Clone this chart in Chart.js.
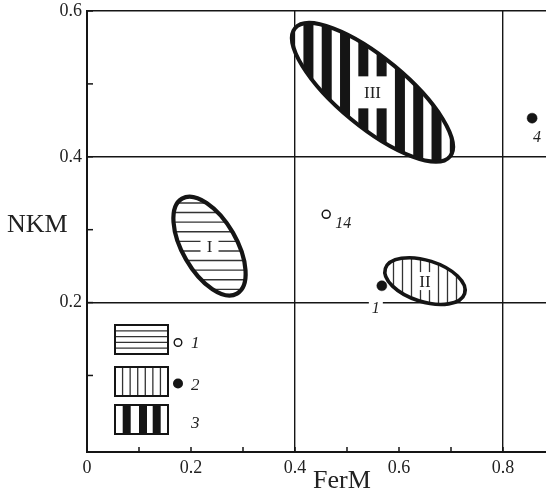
<!DOCTYPE html>
<html><head><meta charset="utf-8">
<script src="https://cdn.jsdelivr.net/npm/chart.js@4/dist/chart.umd.min.js"></script>
<style>html,body{margin:0;padding:0;background:#fff}</style>
</head><body>
<canvas id="c" width="546" height="491"></canvas>
<script>
// ---- data ----
const xTickValues = [0, 0.1, 0.2, 0.3, 0.4, 0.5, 0.6, 0.7, 0.8];
const xLabelValues = [0, 0.2, 0.4, 0.6, 0.8];
const xGridValues = [0.4, 0.8];
const yTickValues = [0.1, 0.2, 0.3, 0.4, 0.5, 0.6];
const yLabelValues = [0.2, 0.4, 0.6];
const yGridValues = [0.2, 0.4, 0.6];

const openPointX = [0.46];
const openPointY = [0.321];
const openPointLabels = ['14'];
const filledPointX = [0.856, 0.567];
const filledPointY = [0.453, 0.223];
const filledPointLabels = ['4', '1'];

const ellipseLabels = ['I', 'II', 'III'];
const ellipseCenterX = [0.2356, 0.650, 0.549];
const ellipseCenterY = [0.2774, 0.2295, 0.4884];
const ellipseMajorX = [0.2885, 0.7262, 0.698];
const ellipseMajorY = [0.2122, 0.2123, 0.4005];
const ellipseMinorX = [0.2806, 0.6379, 0.5069];
const ellipseMinorY = [0.2959, 0.2025, 0.4521];

const legendLabels = ['1', '2', '3'];

// ---- styles ----
const SERIF = '"Liberation Serif", "DejaVu Serif", serif';
const INK = '#151515';
const ellipseHatch = ['horizontal', 'vertical', 'bars'];
const ellipseBorder = [4.2, 3.6, 4];
const ellipseLabelBox = [[18, 20], [22, 18], [30, 32]];
const labelOffsets = { '14': [9, 14], '4': [1, 24], '1': [-10, 27] };

const near = (a, list) => list.some(g => Math.abs(g - a) < 1e-6);
const fmt = v => String(+v.toFixed(1));

const drawPlugin = {
  id: 'drawPlugin',
  beforeDatasetsDraw(chart) {
    const { ctx, scales: { x, y }, chartArea } = chart;
    ctx.save();
    ctx.strokeStyle = INK; ctx.lineWidth = 1.5;
    xTickValues.forEach(v => {
      const px = x.getPixelForValue(v);
      ctx.beginPath(); ctx.moveTo(px, chartArea.bottom); ctx.lineTo(px, chartArea.bottom - 5); ctx.stroke();
    });
    yTickValues.forEach(v => {
      const py = y.getPixelForValue(v);
      ctx.beginPath(); ctx.moveTo(chartArea.left, py); ctx.lineTo(chartArea.left + 6, py); ctx.stroke();
    });
    ctx.restore();

    ellipseLabels.forEach((lab, i) => {
      const cx = x.getPixelForValue(ellipseCenterX[i]), cy = y.getPixelForValue(ellipseCenterY[i]);
      const ux = x.getPixelForValue(ellipseMajorX[i]) - cx, uy = y.getPixelForValue(ellipseMajorY[i]) - cy;
      const vx = x.getPixelForValue(ellipseMinorX[i]) - cx, vy = y.getPixelForValue(ellipseMinorY[i]) - cy;
      const path = () => {
        ctx.beginPath(); ctx.save(); ctx.translate(cx, cy); ctx.transform(ux, uy, vx, vy, 0, 0);
        ctx.arc(0, 0, 1, 0, Math.PI * 2); ctx.restore();
      };
      const hw = Math.hypot(ux, vx) + 4, hh = Math.hypot(uy, vy) + 4;
      ctx.save();
      path(); ctx.fillStyle = '#fff'; ctx.fill(); ctx.clip();
      const kind = ellipseHatch[i];
      if (kind === 'horizontal') {
        const sp = 9.6; ctx.strokeStyle = '#333'; ctx.lineWidth = 1.4;
        for (let k = -10; k <= 10; k++) {
          const yy = cy + sp / 2 + k * sp;
          ctx.beginPath(); ctx.moveTo(cx - hw, yy); ctx.lineTo(cx + hw, yy); ctx.stroke();
        }
      } else if (kind === 'vertical') {
        const sp = 9; ctx.strokeStyle = '#333'; ctx.lineWidth = 1.3;
        for (let k = -10; k <= 10; k++) {
          const xx = cx + sp / 2 + k * sp;
          ctx.beginPath(); ctx.moveTo(xx, cy - hh); ctx.lineTo(xx, cy + hh); ctx.stroke();
        }
      } else {
        const sp = 18.3, bw = 10; ctx.fillStyle = INK;
        for (let k = -10; k <= 10; k++) {
          const xx = cx + sp / 2 + k * sp;
          ctx.fillRect(xx - bw / 2, cy - hh, bw, 2 * hh);
        }
      }
      const [bwid, bhgt] = ellipseLabelBox[i];
      ctx.fillStyle = '#fff';
      ctx.fillRect(cx - bwid / 2, cy - bhgt / 2, bwid, bhgt);
      ctx.font = '17px ' + SERIF;
      ctx.fillStyle = '#222'; ctx.textAlign = 'center'; ctx.textBaseline = 'middle';
      ctx.fillText(lab, cx, cy + 1);
      ctx.restore();
      path(); ctx.save(); ctx.lineWidth = ellipseBorder[i]; ctx.strokeStyle = INK; ctx.stroke(); ctx.restore();
    });
  },
  afterDatasetsDraw(chart) {
    const { ctx } = chart;
    ctx.save();
    ctx.font = 'italic 16px ' + SERIF; ctx.textAlign = 'left'; ctx.textBaseline = 'alphabetic';
    chart.data.datasets.forEach((ds, di) => {
      const meta = chart.getDatasetMeta(di);
      meta.data.forEach((el, j) => {
        const lab = ds.pointLabels[j];
        const off = labelOffsets[lab] || [8, 12];
        const tx = el.x + off[0], ty = el.y + off[1];
        const tw = ctx.measureText(lab).width;
        ctx.fillStyle = '#fff';
        ctx.fillRect(tx - 3, ty - 12, tw + 6, 14);
        ctx.fillStyle = '#222';
        ctx.fillText(lab, tx, ty);
      });
    });
    ctx.restore();
  },
  afterDraw(chart) {
    const { ctx, chartArea } = chart;
    ctx.save();
    // axis titles
    ctx.fillStyle = '#222';
    ctx.font = '26px ' + SERIF; ctx.textBaseline = 'alphabetic';
    ctx.textAlign = 'center';
    ctx.fillText('FerM', 342, 488);
    ctx.textAlign = 'left';
    ctx.fillText('NKM', 7, 232);
    // legend
    const bx = chartArea.left + 28, bw = 53, bh = 29;
    const by = [chartArea.top + 314, chartArea.top + 356, chartArea.top + 394];
    by.forEach((top, i) => {
      ctx.fillStyle = '#fff'; ctx.fillRect(bx, top, bw, bh);
      if (i === 0) {
        ctx.strokeStyle = '#333'; ctx.lineWidth = 1.3;
        for (let k = 1; k <= 4; k++) {
          const yy = top + k * bh / 5;
          ctx.beginPath(); ctx.moveTo(bx, yy); ctx.lineTo(bx + bw, yy); ctx.stroke();
        }
      } else if (i === 1) {
        ctx.strokeStyle = '#333'; ctx.lineWidth = 1.3;
        for (let k = 1; k <= 6; k++) {
          const xx = bx + k * bw / 7;
          ctx.beginPath(); ctx.moveTo(xx, top); ctx.lineTo(xx, top + bh); ctx.stroke();
        }
      } else {
        ctx.fillStyle = INK;
        [7.7, 24, 37.7].forEach(o => ctx.fillRect(bx + o, top, 8, bh));
      }
      ctx.strokeStyle = INK; ctx.lineWidth = 2;
      ctx.strokeRect(bx, top, bw, bh);
      const mid = top + bh / 2;
      if (i === 0) {
        ctx.beginPath(); ctx.arc(bx + 63, mid + 3, 3.8, 0, Math.PI * 2);
        ctx.fillStyle = '#fff'; ctx.fill(); ctx.lineWidth = 1.4; ctx.strokeStyle = INK; ctx.stroke();
      } else if (i === 1) {
        ctx.beginPath(); ctx.arc(bx + 63, mid + 2, 5, 0, Math.PI * 2);
        ctx.fillStyle = INK; ctx.fill();
      }
      ctx.fillStyle = '#222'; ctx.font = 'italic 17px ' + SERIF; ctx.textAlign = 'left';
      ctx.fillText(legendLabels[i], bx + 76, mid + 8);
    });
    ctx.restore();
  }
};

const gridColor = list => c => (c.tick && near(c.tick.value, list)) ? INK : 'rgba(0,0,0,0)';

new Chart(document.getElementById('c'), {
  type: 'scatter',
  data: {
    datasets: [
      {
        data: openPointX.map((v, i) => ({ x: v, y: openPointY[i] })),
        pointLabels: openPointLabels,
        pointRadius: 4, pointBorderWidth: 1.5,
        pointBackgroundColor: '#fff', pointBorderColor: INK
      },
      {
        data: filledPointX.map((v, i) => ({ x: v, y: filledPointY[i] })),
        pointLabels: filledPointLabels,
        pointRadius: 5, pointBorderWidth: 0.5,
        pointBackgroundColor: INK, pointBorderColor: INK
      }
    ]
  },
  options: {
    responsive: false,
    animation: false,
    devicePixelRatio: 1,
    layout: { autoPadding: false, padding: { top: 11, right: 0, left: 0, bottom: 0 } },
    plugins: { legend: { display: false }, tooltip: { enabled: false } },
    scales: {
      x: {
        type: 'linear', min: 0, max: 0.8827,
        afterBuildTicks: s => { s.ticks = xTickValues.map(v => ({ value: v })); },
        afterFit: s => { s.height = 39; s.paddingLeft = 0; s.paddingRight = 0; },
        ticks: {
          autoSkip: false, maxRotation: 0, padding: 5, color: '#222',
          font: { family: SERIF, size: 18 },
          callback: v => near(v, xLabelValues) ? fmt(v) : ''
        },
        grid: { drawTicks: false, color: gridColor(xGridValues), lineWidth: 1.4 },
        border: { display: true, color: INK, width: 2 }
      },
      y: {
        type: 'linear', min: -0.005, max: 0.6,
        afterBuildTicks: s => { s.ticks = yTickValues.map(v => ({ value: v })); },
        afterFit: s => { s.width = 87; s.paddingTop = 0; s.paddingBottom = 0; },
        ticks: {
          autoSkip: false, padding: 5, color: '#222',
          font: { family: SERIF, size: 18 },
          callback: v => near(v, yLabelValues) ? fmt(v) : ''
        },
        grid: { drawTicks: false, color: gridColor(yGridValues), lineWidth: 1.4 },
        border: { display: true, color: INK, width: 2 }
      }
    }
  },
  plugins: [drawPlugin]
});
</script>
</body></html>
